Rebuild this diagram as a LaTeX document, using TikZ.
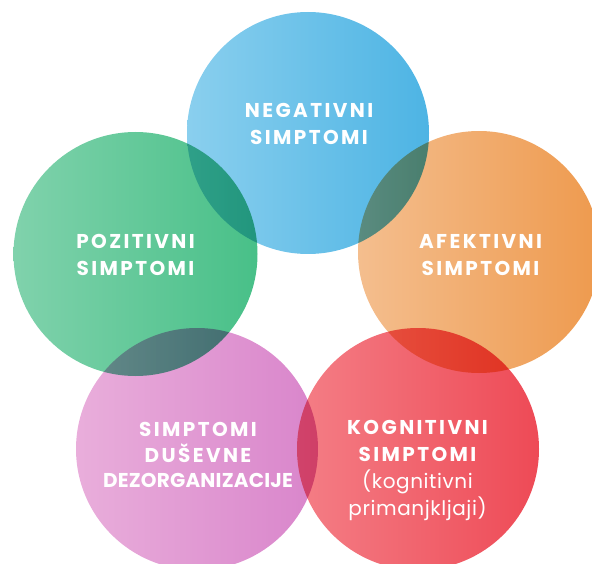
\documentclass[tikz,border=0pt]{standalone}
\usepackage{fontspec}
\setsansfont{Poppins}[LetterSpace=12]
\newfontfamily\tightsf{Poppins}[LetterSpace=1]
\newfontfamily\plainsf{Poppins}[LetterSpace=3]
\usepackage{xcolor}
\definecolor{negl}{HTML}{8ACFEE}
\definecolor{negd}{HTML}{4DB4E4}
\definecolor{pozl}{HTML}{80D2AC}
\definecolor{pozd}{HTML}{48C088}
\definecolor{afel}{HTML}{F4BE8E}
\definecolor{afed}{HTML}{EE9A4E}
\definecolor{dusl}{HTML}{E9AEDB}
\definecolor{dusd}{HTML}{D985CB}
\definecolor{kogl}{HTML}{F47E86}
\definecolor{kogd}{HTML}{EE4A56}
\usetikzlibrary{calc}

\begin{document}
\begin{tikzpicture}[x=1pt,y=-1pt,
    blob/.style={blend mode=multiply},
    lbl/.style={text=white,align=center,inner sep=0pt,
      font=\sffamily\bfseries\fontsize{20}{27}\selectfont}]
    \useasboundingbox (0,0) rectangle (592,564);
    \shade[blob,left color=negl,right color=negd] (308,133) circle (121);
    \shade[blob,left color=pozl,right color=pozd] (135.5,254) circle (122);
    \shade[blob,left color=afel,right color=afed] (479,252) circle (121);
    \shade[blob,left color=dusl,right color=dusd] (197,449) circle (121);
    \shade[blob,left color=kogl,right color=kogd] (418,449) circle (121);
    \node[lbl] (neg) at (309,124) {NEGATIVNI\\SIMPTOMI};
    \node[lbl] (poz) at (135.5,254.5) {POZITIVNI\\SIMPTOMI};
    \node[lbl] (afe) at (480.5,255) {AFEKTIVNI\\SIMPTOMI};
    \node[lbl,font=\sffamily\bfseries\fontsize{20}{25.5}\selectfont] (dus) at (198,455) {SIMPTOMI\\DUŠEVNE\\{\tightsf DEZORGANIZACIJE}};
    \node[lbl] (kog) at (417.5,470) {KOGNITIVNI\\SIMPTOMI\\{\plainsf\mdseries (kognitivni}\\{\plainsf\mdseries primanjkljaji)}};
\end{tikzpicture}
\end{document}
